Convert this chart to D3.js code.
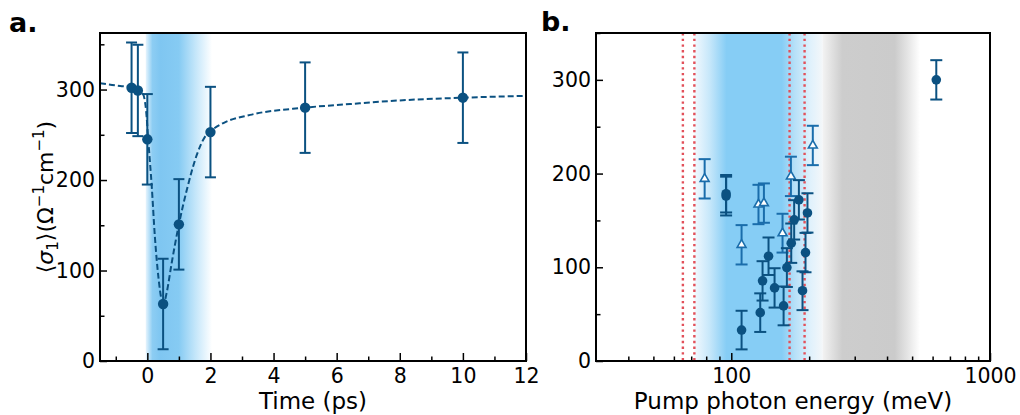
<!DOCTYPE html>
<html>
<head>
<meta charset="utf-8">
<script src="https://cdn.jsdelivr.net/npm/d3@7"></script>
<style>
  body { margin: 0; background: #fff; }
  svg { display: block; font-family: "DejaVu Sans", sans-serif; }
</style>
</head>
<body>
<svg id="chart" width="1020" height="415"></svg>
<script>
// panel a: <sigma_1> vs pump-probe delay
const timePs = [-0.5, -0.3, 0, 0.5, 1, 2, 5, 10];
const sigmaTime = [302, 299, 245, 63, 151, 253, 280, 291];
const sigmaTimeErr = [50, 50.5, 50, 50, 50, 50, 50, 50];

// dashed fit curve
const fitT = [-1.5, -0.86, -0.5, -0.3, -0.15, -0.04, 0.03, 0.14, 0.24, 0.35, 0.46, 0.52, 0.61, 0.77, 1.0, 1.25, 1.57, 1.83, 2.04, 2.41, 3.26, 5, 6.43, 8, 10, 12];
const fitSigma = [307, 304, 303, 299, 296, 277, 244, 193, 137, 93, 67, 64, 75, 108, 151, 189, 228, 248, 255, 263, 272, 280, 284, 288, 291, 293];

// panel b: <sigma_1> vs pump photon energy
const energyCirc = [95.5, 95.5, 109.6, 129.4, 132.1, 139.3, 147, 159.3, 164, 170.5, 175, 182.5, 188.5, 193.6, 197, 620];
const sigmaCirc = [176, 178.5, 33, 51.6, 85.5, 111.8, 78, 58.8, 99.7, 125.7, 150.6, 172, 75, 115.7, 158, 300];
const errCirc = [20.7, 20, 20.6, 20.6, 21, 20, 21, 20.7, 20.7, 21, 21, 21, 20.7, 21, 21, 21];

const energyTri = [78.9, 109.6, 127.4, 133.7, 157.8, 170, 206.6];
const sigmaTri = [194.4, 124, 167, 168.5, 136.4, 197, 230];
const errTri = [21, 21, 21, 21, 20.7, 21, 21];

const redLinesMeV = [65, 72, 168, 192];
const pumpWindowPs = [-0.05, 2.05];
const blueBandMeV = [72, 226];
const grayBandMeV = [226, 536];

const xTicksA = [0, 2, 4, 6, 8, 10, 12];
const xMinorA = [-1, 1, 3, 5, 7, 9, 11];
const yTicks = [0, 100, 200, 300];
const yMinor = [50, 150, 250, 350];
const xTicksB = [100, 1000];
const xMinorB = [40, 50, 60, 70, 80, 90, 200, 300, 400, 500, 600, 700, 800, 900];

const dark = "#0b5181";
const mid = "#1a6dab";

const svg = d3.select("#chart");
const defs = svg.append("defs");

const plotTop = 33, plotBottom = 361;

const xA = d3.scaleLinear().domain([-1.5, 12]).range([100, 526]);
const yA = d3.scaleLinear().domain([0, 362.5]).range([plotBottom, plotTop]);
const xB = d3.scaleLog().domain([30, 1000]).range([596, 990]);
const yB = d3.scaleLinear().domain([0, 350]).range([plotBottom, plotTop]);

function gradient(id, x1, x2, stops) {
  const g = defs.append("linearGradient")
    .attr("id", id)
    .attr("gradientUnits", "userSpaceOnUse")
    .attr("x1", x1).attr("x2", x2).attr("y1", 0).attr("y2", 0);
  stops.forEach(([o, c]) => g.append("stop").attr("offset", o).attr("stop-color", c));
}

function clip(id, x) {
  defs.append("clipPath").attr("id", id)
    .append("rect")
    .attr("x", x.range()[0]).attr("y", plotTop)
    .attr("width", x.range()[1] - x.range()[0]).attr("height", plotBottom - plotTop);
}

function axes(g, x, y, xMajor, xMinor, fmt) {
  const tickStyle = (sel) => {
    sel.select(".domain").remove();
    sel.selectAll(".tick line").attr("stroke", "#000").attr("stroke-width", 1.5);
    sel.selectAll(".tick text").attr("fill", "#000").style("font-size", "20.5px")
      .style("font-family", "DejaVu Sans");
  };
  g.append("g").attr("transform", `translate(0,${plotBottom})`)
    .call(d3.axisBottom(x).tickValues(xMajor).tickSize(-8).tickPadding(7).tickFormat(fmt))
    .call(tickStyle);
  g.append("g").attr("transform", `translate(0,${plotBottom})`)
    .call(d3.axisBottom(x).tickValues(xMinor).tickSize(-4.5).tickFormat(""))
    .call(tickStyle);
  g.append("g").attr("transform", `translate(${x.range()[0]},0)`)
    .call(d3.axisLeft(y).tickValues(yTicks).tickSize(-7).tickPadding(5).tickFormat(d3.format("d")))
    .call(tickStyle);
  g.append("g").attr("transform", `translate(${x.range()[0]},0)`)
    .call(d3.axisLeft(y).tickValues(yMinor).tickSize(-4.5).tickFormat(""))
    .call(tickStyle);
  g.append("rect")
    .attr("x", x.range()[0]).attr("y", plotTop)
    .attr("width", x.range()[1] - x.range()[0]).attr("height", plotBottom - plotTop)
    .attr("fill", "none").attr("stroke", "#000").attr("stroke-width", 2);
}

function errorBars(g, xs, ys, es, x, y, color, cap) {
  const idx = d3.range(xs.length);
  const eb = g.append("g").attr("stroke", color).attr("stroke-width", 2).attr("fill", "none");
  eb.selectAll(null).data(idx).join("line")
    .attr("x1", (i) => x(xs[i])).attr("x2", (i) => x(xs[i]))
    .attr("y1", (i) => y(ys[i] - es[i])).attr("y2", (i) => y(ys[i] + es[i]));
  [-1, 1].forEach((s) => {
    eb.selectAll(null).data(idx).join("line")
      .attr("x1", (i) => x(xs[i]) - cap).attr("x2", (i) => x(xs[i]) + cap)
      .attr("y1", (i) => y(ys[i] + s * es[i])).attr("y2", (i) => y(ys[i] + s * es[i]));
  });
}

// ---------- panel a ----------
const ga = svg.append("g");
clip("clipA", xA);
gradient("pumpA", xA(pumpWindowPs[0]), xA(pumpWindowPs[1]), [
  [0, "#e6f4fd"], [0.1, "#8dcdf3"], [0.22, "#7fc6f1"], [0.5, "#86cbf3"],
  [0.75, "#c4e6fa"], [1, "#ffffff"]
]);
ga.append("rect")
  .attr("clip-path", "url(#clipA)")
  .attr("x", xA(pumpWindowPs[0])).attr("y", plotTop)
  .attr("width", xA(pumpWindowPs[1]) - xA(pumpWindowPs[0])).attr("height", plotBottom - plotTop)
  .attr("fill", "url(#pumpA)");

ga.append("path")
  .datum(d3.range(fitT.length))
  .attr("clip-path", "url(#clipA)")
  .attr("fill", "none").attr("stroke", dark).attr("stroke-width", 2)
  .attr("stroke-dasharray", "6,3")
  .attr("d", d3.line().x((i) => xA(fitT[i])).y((i) => yA(fitSigma[i])).curve(d3.curveMonotoneX));

errorBars(ga, timePs, sigmaTime, sigmaTimeErr, xA, yA, dark, 5.5);
ga.append("g").selectAll("circle").data(d3.range(timePs.length)).join("circle")
  .attr("cx", (i) => xA(timePs[i])).attr("cy", (i) => yA(sigmaTime[i]))
  .attr("r", 5.2).attr("fill", dark);

axes(ga, xA, yA, xTicksA, xMinorA, d3.format("d"));

ga.append("text").attr("x", (xA.range()[0] + xA.range()[1]) / 2).attr("y", 409)
  .attr("text-anchor", "middle").style("font-size", "23px").text("Time (ps)");

const ylab = ga.append("text")
  .attr("transform", `translate(53,${(plotTop + plotBottom) / 2}) rotate(-90)`)
  .attr("text-anchor", "middle").style("font-size", "22px");
ylab.append("tspan").text("⟨");
ylab.append("tspan").style("font-style", "italic").text("σ");
ylab.append("tspan").attr("dy", 5).style("font-size", "15px").text("1");
ylab.append("tspan").attr("dy", -5).text("⟩(Ω");
ylab.append("tspan").attr("dy", -9).style("font-size", "15px").text("−1");
ylab.append("tspan").attr("dy", 9).text("cm");
ylab.append("tspan").attr("dy", -9).style("font-size", "15px").text("−1");
ylab.append("tspan").attr("dy", 9).text(")");

svg.append("text").attr("x", 9).attr("y", 32).style("font-size", "27px")
  .style("font-weight", "bold").text("a.");

// ---------- panel b ----------
const gb = svg.append("g");
clip("clipB", xB);
gradient("blueB", xB(blueBandMeV[0]), xB(blueBandMeV[1]), [
  [0, "#f2f9fe"], [0.12, "#c6e7fa"], [0.25, "#86cdf5"], [0.68, "#86cdf5"],
  [0.78, "#b6e0f8"], [0.9, "#dff1fc"], [1, "#f4f7f9"]
]);
gradient("grayB", xB(grayBandMeV[0]), xB(grayBandMeV[1]), [
  [0, "#f2f2f2"], [0.2, "#cdcdcd"], [0.74, "#cbcbcb"], [0.88, "#e6e6e6"], [1, "#ffffff"]
]);
gb.append("rect").attr("clip-path", "url(#clipB)")
  .attr("x", xB(blueBandMeV[0])).attr("y", plotTop)
  .attr("width", xB(blueBandMeV[1]) - xB(blueBandMeV[0])).attr("height", plotBottom - plotTop)
  .attr("fill", "url(#blueB)");
gb.append("rect").attr("clip-path", "url(#clipB)")
  .attr("x", xB(grayBandMeV[0])).attr("y", plotTop)
  .attr("width", xB(grayBandMeV[1]) - xB(grayBandMeV[0])).attr("height", plotBottom - plotTop)
  .attr("fill", "url(#grayB)");

gb.append("g").selectAll("line").data(redLinesMeV).join("line")
  .attr("x1", (d) => xB(d)).attr("x2", (d) => xB(d))
  .attr("y1", plotTop).attr("y2", plotBottom)
  .attr("stroke", "#e2505a").attr("stroke-width", 2.4).attr("stroke-dasharray", "2.4,3.3");

errorBars(gb, energyTri, sigmaTri, errTri, xB, yB, mid, 6);
gb.append("g").selectAll("path").data(d3.range(energyTri.length)).join("path")
  .attr("transform", (i) => `translate(${xB(energyTri[i])},${yB(sigmaTri[i])})`)
  .attr("d", d3.symbol(d3.symbolTriangle, 34))
  .attr("fill", "#fff").attr("stroke", mid).attr("stroke-width", 1.6);

errorBars(gb, energyCirc, sigmaCirc, errCirc, xB, yB, dark, 6);
gb.append("g").selectAll("circle").data(d3.range(energyCirc.length)).join("circle")
  .attr("cx", (i) => xB(energyCirc[i])).attr("cy", (i) => yB(sigmaCirc[i]))
  .attr("r", 4.8).attr("fill", dark);

axes(gb, xB, yB, xTicksB, xMinorB, d3.format("d"));

gb.append("text").attr("x", (xB.range()[0] + xB.range()[1]) / 2).attr("y", 409)
  .attr("text-anchor", "middle").style("font-size", "23px").text("Pump photon energy (meV)");

svg.append("text").attr("x", 541).attr("y", 31).style("font-size", "27px")
  .style("font-weight", "bold").text("b.");
</script>
</body>
</html>
